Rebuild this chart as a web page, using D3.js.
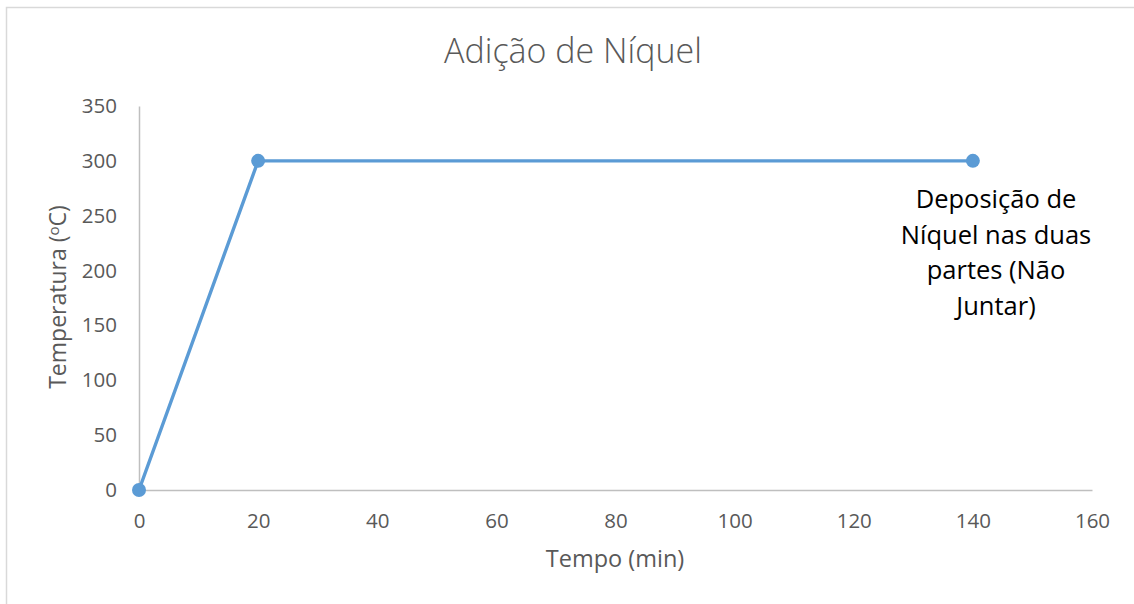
<!DOCTYPE html>
<html>
<head>
<meta charset="utf-8">
<script src="https://cdn.jsdelivr.net/npm/d3@7/dist/d3.min.js"></script>
<style>
  html, body { margin: 0; padding: 0; background: #fff; }
  svg { display: block; }
  text { font-family: "Open Sans", "Noto Sans", sans-serif; }
</style>
</head>
<body>
<svg id="chart" width="1134" height="604"></svg>
<script>
// Temperature profile for the nickel deposition step
const tempo = [0, 20, 140];
const temperatura = [0, 300, 300];
const xTicks = [0, 20, 40, 60, 80, 100, 120, 140, 160];
const yTicks = [0, 50, 100, 150, 200, 250, 300, 350];
const chartTitle = "Adição de Níquel";
const xTitle = "Tempo (min)";
const annotationLines = ["Deposição de", "Níquel nas duas", "partes (Não", "Juntar)"];

const svg = d3.select("#chart");
const W = 1134, H = 604;
const plot = { left: 139, right: 1092, top: 106, bottom: 490 };

// outer frame of the chart area
svg.append("rect")
  .attr("x", 6.5).attr("y", 7.5)
  .attr("width", W + 20).attr("height", H + 20)
  .attr("fill", "#fff")
  .attr("stroke", "#d9d9d9").attr("stroke-width", 1.5);

const x = d3.scaleLinear().domain([0, 160]).range([plot.left, plot.right]);
const y = d3.scaleLinear().domain([0, 350]).range([plot.bottom, plot.top]);

// y axis
const yAxis = svg.append("g")
  .attr("transform", `translate(${plot.left},0)`)
  .call(d3.axisLeft(y).tickValues(yTicks).tickSize(0).tickPadding(22));
yAxis.select(".domain").attr("stroke", "#bfbfbf").attr("stroke-width", 1.5);
yAxis.selectAll("text")
  .attr("fill", "#595959").style("font-size", "20.5px")
  .style("font-family", "'Open Sans', sans-serif");

// x axis
const xAxis = svg.append("g")
  .attr("transform", `translate(0,${plot.bottom})`)
  .call(d3.axisBottom(x).tickValues(xTicks).tickSize(0).tickPadding(23));
xAxis.select(".domain").attr("stroke", "#bfbfbf").attr("stroke-width", 1.5);
xAxis.selectAll("text")
  .attr("fill", "#595959").style("font-size", "20.5px")
  .style("font-family", "'Open Sans', sans-serif");

// series line and markers
const line = d3.line()
  .x((d, i) => x(tempo[i]))
  .y(d => y(d));

svg.append("path")
  .datum(temperatura)
  .attr("d", line)
  .attr("fill", "none")
  .attr("stroke", "#5b9bd5")
  .attr("stroke-width", 3.4)
  .attr("stroke-linejoin", "round");

svg.selectAll("circle.pt")
  .data(temperatura)
  .enter().append("circle")
  .attr("class", "pt")
  .attr("cx", (d, i) => x(tempo[i]))
  .attr("cy", d => y(d))
  .attr("r", 7)
  .attr("fill", "#5b9bd5");

// chart title
svg.append("text")
  .attr("x", 573).attr("y", 63)
  .attr("text-anchor", "middle")
  .attr("fill", "#595959")
  .style("font-size", "34px")
  .style("font-weight", "300")
  .text(chartTitle);

// x axis title
svg.append("text")
  .attr("x", 615).attr("y", 567)
  .attr("text-anchor", "middle")
  .attr("fill", "#595959")
  .style("font-size", "23.5px")
  .text(xTitle);

// y axis title with superscript degree mark
const yTitle = svg.append("text")
  .attr("transform", "translate(66,297) rotate(-90)")
  .attr("text-anchor", "middle")
  .attr("fill", "#595959")
  .style("font-size", "23px");
yTitle.append("tspan").text("Temperatura (");
yTitle.append("tspan").attr("dy", -7).style("font-size", "15px").text("o");
yTitle.append("tspan").attr("dy", 7).text("C)");

// annotation below the last point
const ann = svg.append("text")
  .attr("text-anchor", "middle")
  .attr("fill", "#000")
  .style("font-size", "25.5px");
annotationLines.forEach((t, i) => {
  ann.append("tspan")
    .attr("x", 996)
    .attr("y", 208 + i * 35.7)
    .text(t);
});
</script>
</body>
</html>
